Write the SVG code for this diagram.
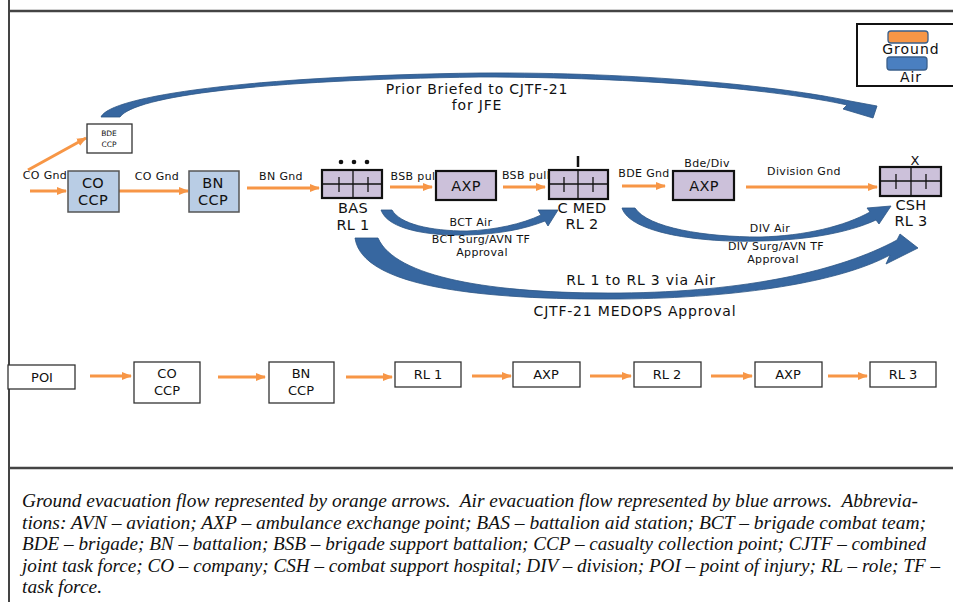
<svg xmlns="http://www.w3.org/2000/svg" width="953" height="602" viewBox="0 0 953 602">
<defs>
<marker id="oh" markerUnits="userSpaceOnUse" markerWidth="10" markerHeight="10" viewBox="0 0 10 10" refX="9" refY="5" orient="auto">
<path d="M0,1 L10,5 L0,9 Z" fill="#f79646"/>
</marker>
</defs>
<style>
.t{font-family:"DejaVu Sans","Open Sans",sans-serif;fill:#111;text-anchor:middle}
.s{font-size:11px;letter-spacing:0.35px}
.m{font-size:13px}
.a{font-size:14px;letter-spacing:0.8px}
.g{font-size:14px;letter-spacing:1px}
.l{font-size:14.5px;letter-spacing:0.3px}
.blue{fill:#b9cde5;stroke:#555;stroke-width:1.5}
.pur{fill:#ccc1da;stroke:#111;stroke-width:2.2}
.wht{fill:#fff;stroke:#333;stroke-width:1.3}
.og{stroke:#f79646;stroke-width:3;fill:none;marker-end:url(#oh)}
.air{fill:#3767a0;stroke:#2c5585;stroke-width:0.8}
.in{stroke:#111;stroke-width:1.3}
.cap{font-family:"Liberation Serif","Times New Roman",serif;font-style:italic;font-size:19px;fill:#111;white-space:pre}
</style>
<rect width="953" height="602" fill="#fff"/>
<g id="frame" stroke="#444" fill="none">
<line x1="9" y1="0" x2="9" y2="602" stroke-width="2"/>
<line x1="9" y1="11" x2="953" y2="11" stroke-width="2.5"/>
<line x1="9" y1="468" x2="953" y2="468" stroke-width="2.5"/>
</g>
<g id="legend">
<rect x="857" y="24" width="100" height="62" fill="#fff" stroke="#111" stroke-width="2"/>
<rect x="888" y="31" width="40" height="12" rx="3" fill="#f79646" stroke="#3a5f8a" stroke-width="1.3"/>
<text class="t g" x="911" y="54">Ground</text>
<rect x="887" y="57" width="40" height="13" rx="3" fill="#4a7fc0" stroke="#3a5f8a" stroke-width="1.3"/>
<text class="t g" x="911" y="82">Air</text>
</g>
<g id="connectors">
<line class="og" x1="28" y1="170" x2="86" y2="138"/>
<line class="og" x1="30" y1="191" x2="66" y2="191"/>
<line class="og" x1="119" y1="191" x2="188" y2="191"/>
<line class="og" x1="247" y1="188" x2="319" y2="188"/>
<line class="og" x1="390" y1="187" x2="432" y2="187"/>
<line class="og" x1="503" y1="187" x2="545" y2="187"/>
<line class="og" x1="622" y1="186" x2="665" y2="186"/>
<line class="og" x1="746" y1="187" x2="877" y2="187"/>
<line class="og" x1="90" y1="376" x2="131" y2="376"/>
<line class="og" x1="218" y1="377" x2="265" y2="377"/>
<line class="og" x1="346" y1="377" x2="392" y2="377"/>
<line class="og" x1="472" y1="376" x2="511" y2="376"/>
<line class="og" x1="590" y1="376" x2="631" y2="376"/>
<line class="og" x1="711" y1="376" x2="752" y2="376"/>
<line class="og" x1="828" y1="376" x2="867" y2="376"/>
<path class="air" d="M101,117 C110,96 250,76 480,73 C640,72 780,86 850,101 L877,106 L873,118 L843,109 L847,105 C780,90 640,77 480,77 C260,80 135,96 120,117 Z"/>
<path class="air" d="M381,210 C388,230 430,236 467,235 C500,234 525,229 545,221 L548,226 L558,210 L538,210 L541,215 C522,224 495,230 467,231 C430,231 400,224 392,210 Z"/>
<path class="air" d="M622,208 C630,233 700,243 760,241 C810,240 850,232 876,220 L879,224 L891,206 L867,208 L870,212 C845,226 805,236 760,237 C705,237 648,228 635,208 Z"/>
<path class="air" d="M355,238 C362,287 480,300 620,299 C740,298 840,282 890,255 L886,264 L918,248 L900,234 L897,240 C840,271 745,292 620,293 C490,294 395,277 378,238 Z"/>
<text class="t s" x="45" y="179">CO Gnd</text>
<text class="t s" x="157" y="180">CO Gnd</text>
<text class="t s" x="281" y="180">BN Gnd</text>
<text class="t s" x="413" y="180">BSB pul</text>
<text class="t s" x="526" y="179">BSB pull</text>
<text class="t s" x="644" y="177">BDE Gnd</text>
<text class="t s" x="804" y="175">Division Gnd</text>
<text class="t a" x="477" y="94">Prior Briefed to CJTF-21</text>
<text class="t a" x="477" y="110">for JFE</text>
<text class="t s" x="471" y="226">BCT Air</text>
<text class="t s" x="481" y="243">BCT Surg/AVN TF</text>
<text class="t s" x="482" y="256">Approval</text>
<text class="t s" x="770" y="232">DIV Air</text>
<text class="t s" x="776" y="250">DIV Surg/AVN TF</text>
<text class="t s" x="773" y="263">Approval</text>
<text class="t a" x="641" y="285">RL 1 to RL 3 via Air</text>
<text class="t a" x="635" y="316">CJTF-21 MEDOPS Approval</text>
</g>
<g id="bde-ccp">
<rect class="wht" x="87" y="124" width="45" height="29"/>
<text class="t" x="109" y="136" font-size="7.5">BDE</text>
<text class="t" x="109" y="147" font-size="7.5">CCP</text>
</g>
<g id="co-ccp">
<rect class="blue" x="68" y="171" width="51" height="41"/>
<text class="t l" x="93" y="188">CO</text>
<text class="t l" x="93" y="205">CCP</text>
</g>
<g id="bn-ccp">
<rect class="blue" x="189" y="171" width="50" height="41"/>
<text class="t l" x="213" y="188">BN</text>
<text class="t l" x="213" y="205">CCP</text>
</g>
<g id="bas">
<rect class="pur" x="322" y="170" width="60" height="28"/>
<line class="in" x1="322" y1="184" x2="382" y2="184"/>
<line class="in" x1="353" y1="170" x2="353" y2="198"/>
<line class="in" x1="339" y1="177" x2="339" y2="192"/>
<line class="in" x1="368" y1="177" x2="368" y2="192"/>
<circle cx="341" cy="162" r="2.3" fill="#111"/>
<circle cx="354" cy="162" r="2.3" fill="#111"/>
<circle cx="367" cy="162" r="2.3" fill="#111"/>
<text class="t l" x="353" y="213">BAS</text>
<text class="t l" x="353" y="230">RL 1</text>
</g>
<g id="axp1">
<rect class="pur" x="436" y="171" width="60" height="29"/>
<text class="t l" x="466" y="191">AXP</text>
</g>
<g id="cmed">
<rect class="pur" x="549" y="170" width="59" height="29"/>
<line class="in" x1="549" y1="184" x2="608" y2="184"/>
<line class="in" x1="578" y1="170" x2="578" y2="199"/>
<line class="in" x1="564" y1="177" x2="564" y2="192"/>
<line class="in" x1="593" y1="177" x2="593" y2="192"/>
<line x1="578" y1="156" x2="578" y2="167" stroke="#111" stroke-width="2.5"/>
<text class="t l" x="582" y="213">C MED</text>
<text class="t l" x="582" y="229">RL 2</text>
</g>
<g id="axp2">
<text class="t s" x="707" y="167">Bde/Div</text>
<rect class="pur" x="673" y="171" width="61" height="29"/>
<text class="t l" x="704" y="191">AXP</text>
</g>
<g id="csh">
<text class="t m" x="915" y="165">X</text>
<rect class="pur" x="880" y="167" width="61" height="29"/>
<line class="in" x1="880" y1="181" x2="941" y2="181"/>
<line class="in" x1="911" y1="167" x2="911" y2="196"/>
<line class="in" x1="896" y1="174" x2="896" y2="189"/>
<line class="in" x1="926" y1="174" x2="926" y2="189"/>
<text class="t l" x="911" y="210">CSH</text>
<text class="t l" x="911" y="226">RL 3</text>
</g>
<g id="poi"><rect class="wht" x="8" y="365" width="67" height="24"/><text class="t m" x="42" y="382">POI</text></g>
<g id="co-ccp-2"><rect class="wht" x="134" y="362" width="66" height="41"/><text class="t m" x="167" y="378">CO</text><text class="t m" x="167" y="395">CCP</text></g>
<g id="bn-ccp-2"><rect class="wht" x="269" y="362" width="65" height="41"/><text class="t m" x="301" y="378">BN</text><text class="t m" x="301" y="395">CCP</text></g>
<g id="rl1-2"><rect class="wht" x="395" y="362" width="66" height="25"/><text class="t m" x="428" y="379">RL 1</text></g>
<g id="axp-2a"><rect class="wht" x="513" y="362" width="67" height="25"/><text class="t m" x="546" y="379">AXP</text></g>
<g id="rl2-2"><rect class="wht" x="634" y="362" width="67" height="25"/><text class="t m" x="667" y="379">RL 2</text></g>
<g id="axp-2b"><rect class="wht" x="755" y="362" width="67" height="25"/><text class="t m" x="788" y="379">AXP</text></g>
<g id="rl3-2"><rect class="wht" x="870" y="362" width="66" height="25"/><text class="t m" x="903" y="379">RL 3</text></g>
<g id="caption">
<text class="cap" x="22" y="507" textLength="896" lengthAdjust="spacingAndGlyphs">Ground evacuation flow represented by orange arrows.  Air evacuation flow represented by blue arrows.  Abbrevia-</text>
<text class="cap" x="22" y="528.5" textLength="904" lengthAdjust="spacingAndGlyphs">tions: AVN – aviation; AXP – ambulance exchange point; BAS – battalion aid station; BCT – brigade combat team;</text>
<text class="cap" x="22" y="550" textLength="904" lengthAdjust="spacingAndGlyphs">BDE – brigade; BN – battalion; BSB – brigade support battalion; CCP – casualty collection point; CJTF – combined</text>
<text class="cap" x="22" y="571.5" textLength="918" lengthAdjust="spacingAndGlyphs">joint task force; CO – company; CSH – combat support hospital; DIV – division; POI – point of injury; RL – role; TF –</text>
<text class="cap" x="22" y="593" textLength="80" lengthAdjust="spacingAndGlyphs">task force.</text>
</g>
</svg>
